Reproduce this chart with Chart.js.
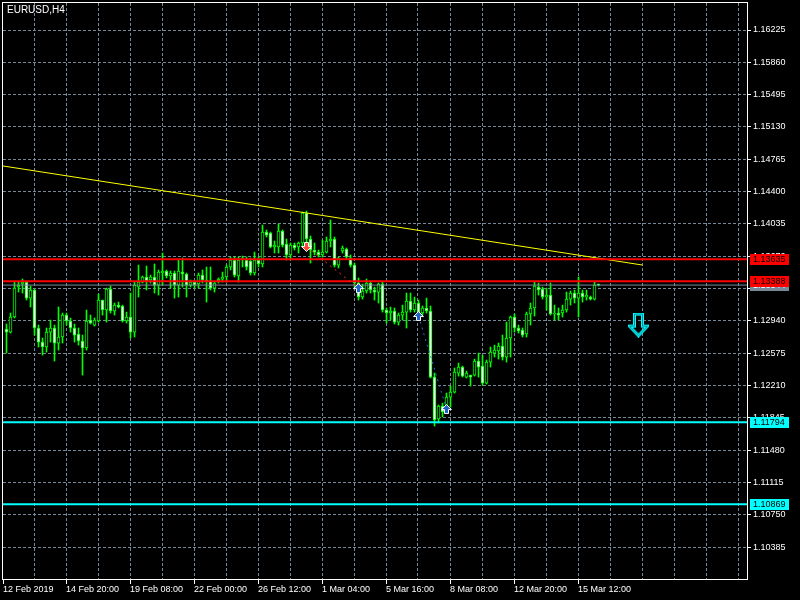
<!DOCTYPE html>
<html lang="en">
<head>
    <meta charset="UTF-8">
    <title>EURUSD,H4</title>
    <script src="https://cdn.jsdelivr.net/npm/chart.js"></script>
    <style>
        html, body { margin: 0; background: #000; }
        canvas { display: block; }
    </style>
</head>
<body>
    <canvas id="chart" width="800" height="600"></canvas>

    <script>
        // EURUSD H4 candles, bar index 0 = first visible bar (12 Feb 2019)
        const opens = [1.12847,1.12813,1.12983,1.13322,1.13356,1.13378,1.13197,1.13288,1.12859,1.12700,
            1.12644,1.12813,1.12859,1.12689,1.12757,1.13005,1.12938,1.12859,1.12791,1.12712,
            1.12633,1.12949,1.12892,1.12938,1.13175,1.13062,1.13299,1.13051,1.13118,1.13107,
            1.12938,1.12983,1.12813,1.13322,1.13378,1.13435,1.13401,1.13435,1.13344,1.13480,
            1.13503,1.13446,1.13480,1.13344,1.13491,1.13469,1.13344,1.13378,1.13356,1.13457,
            1.13401,1.13390,1.13310,1.13390,1.13412,1.13435,1.13548,1.13627,1.13446,1.13627,
            1.13627,1.13616,1.13480,1.13627,1.13582,1.13943,1.13932,1.13774,1.13774,1.13955,
            1.13808,1.13684,1.13796,1.13774,1.13819,1.14158,1.13864,1.13740,1.13717,1.13684,
            1.13717,1.13842,1.13864,1.13570,1.13729,1.13751,1.13650,1.13570,1.13367,1.13209,
            1.13277,1.13367,1.13288,1.13265,1.13356,1.13062,1.13028,1.13051,1.12926,1.13005,
            1.13039,1.13164,1.13062,1.13141,1.13028,1.13085,1.13051,1.12305,1.11831,1.11978,
            1.11921,1.12079,1.12135,1.12350,1.12418,1.12305,1.12327,1.12327,1.12486,1.12429,
            1.12237,1.12474,1.12576,1.12599,1.12655,1.12531,1.12746,1.12983,1.12859,1.12836,
            1.12791,1.13017,1.13085,1.13322,1.13299,1.13209,1.13231,1.13017,1.13028,1.13028,
            1.13062,1.13186,1.13254,1.13197,1.13254,1.13209,1.13209,1.13186,1.13344];
        const highs = [1.12904,1.13028,1.13378,1.13378,1.13412,1.13390,1.13333,1.13299,1.12892,1.12746,
            1.12859,1.12949,1.12892,1.13096,1.13028,1.13028,1.12972,1.12904,1.12859,1.12779,
            1.13062,1.13005,1.12972,1.13243,1.13175,1.13310,1.13333,1.13141,1.13152,1.13118,
            1.13039,1.13254,1.13378,1.13570,1.13446,1.13559,1.13457,1.13582,1.13514,1.13706,
            1.13514,1.13503,1.13503,1.13627,1.13650,1.13480,1.13401,1.13390,1.13480,1.13514,
            1.13548,1.13548,1.13378,1.13424,1.13491,1.13570,1.13661,1.13661,1.13661,1.13672,
            1.13661,1.13650,1.13717,1.13661,1.14022,1.13966,1.13943,1.13842,1.14034,1.13966,
            1.13864,1.13819,1.13819,1.13830,1.14169,1.14181,1.13898,1.13819,1.13740,1.13853,
            1.13887,1.14079,1.13887,1.13661,1.13785,1.13763,1.13684,1.13593,1.13424,1.13356,
            1.13412,1.13390,1.13322,1.13367,1.13378,1.13085,1.13096,1.13085,1.13028,1.13118,
            1.13254,1.13254,1.13209,1.13175,1.13107,1.13197,1.13107,1.12350,1.11989,1.12011,
            1.12124,1.12203,1.12407,1.12463,1.12429,1.12373,1.12327,1.12508,1.12576,1.12553,
            1.12497,1.12644,1.12666,1.12689,1.12779,1.12926,1.12994,1.13017,1.12892,1.12859,
            1.13039,1.13141,1.13378,1.13367,1.13322,1.13310,1.13367,1.13118,1.13085,1.13118,
            1.13265,1.13277,1.13288,1.13435,1.13288,1.13288,1.13220,1.13378,1.13356];
        const lows = [1.12576,1.12802,1.12972,1.13265,1.13254,1.13175,1.13096,1.12779,1.12644,1.12553,
            1.12587,1.12700,1.12486,1.12610,1.12689,1.12892,1.12813,1.12700,1.12666,1.12327,
            1.12610,1.12904,1.12881,1.12926,1.13005,1.12926,1.13028,1.13005,1.13085,1.12926,
            1.12915,1.12746,1.12757,1.13209,1.13367,1.13288,1.13367,1.13254,1.13231,1.13344,
            1.13424,1.13310,1.13197,1.13209,1.13322,1.13209,1.13322,1.13310,1.13310,1.13367,
            1.13152,1.13288,1.13265,1.13367,1.13378,1.13378,1.13514,1.13435,1.13378,1.13548,
            1.13514,1.13457,1.13457,1.13548,1.13548,1.13887,1.13763,1.13706,1.13706,1.13774,
            1.13627,1.13627,1.13740,1.13706,1.13774,1.13830,1.13593,1.13684,1.13661,1.13661,
            1.13706,1.13774,1.13548,1.13537,1.13706,1.13638,1.13548,1.13310,1.13175,1.13186,
            1.13254,1.13254,1.13175,1.13141,1.13039,1.12915,1.12949,1.12904,1.12892,1.12949,
            1.12859,1.13039,1.13039,1.13005,1.13005,1.13028,1.12294,1.11752,1.11786,1.11854,
            1.11899,1.11966,1.12124,1.12316,1.12305,1.12294,1.12203,1.12316,1.12305,1.12214,
            1.12226,1.12418,1.12531,1.12508,1.12497,1.12474,1.12531,1.12813,1.12802,1.12757,
            1.12757,1.12892,1.12994,1.13231,1.13186,1.13062,1.13005,1.12949,1.12949,1.12983,
            1.13039,1.13118,1.13141,1.12983,1.13152,1.13175,1.13175,1.13175,1.13333];
        const closes = [1.12813,1.12983,1.13310,1.13344,1.13378,1.13197,1.13288,1.12859,1.12700,1.12644,
            1.12813,1.12859,1.12689,1.12757,1.13005,1.12938,1.12859,1.12779,1.12712,1.12633,
            1.12938,1.12915,1.12949,1.13175,1.13062,1.13299,1.13051,1.13118,1.13096,1.12938,
            1.12983,1.12813,1.13344,1.13378,1.13435,1.13390,1.13435,1.13344,1.13491,1.13503,
            1.13446,1.13480,1.13344,1.13503,1.13469,1.13344,1.13378,1.13344,1.13457,1.13401,
            1.13390,1.13310,1.13367,1.13412,1.13435,1.13548,1.13627,1.13457,1.13627,1.13650,
            1.13548,1.13480,1.13627,1.13582,1.13943,1.13909,1.13774,1.13796,1.13955,1.13796,
            1.13684,1.13796,1.13763,1.13819,1.14158,1.13864,1.13740,1.13717,1.13684,1.13717,
            1.13842,1.13864,1.13570,1.13650,1.13763,1.13661,1.13570,1.13367,1.13209,1.13277,
            1.13367,1.13288,1.13265,1.13356,1.13062,1.13028,1.13051,1.12926,1.13005,1.13039,
            1.13164,1.13062,1.13141,1.13028,1.13085,1.13051,1.12305,1.11820,1.11978,1.11910,
            1.12079,1.12135,1.12361,1.12418,1.12316,1.12350,1.12305,1.12486,1.12418,1.12237,
            1.12474,1.12587,1.12610,1.12655,1.12531,1.12746,1.12983,1.12859,1.12825,1.12779,
            1.13017,1.13085,1.13333,1.13288,1.13209,1.13231,1.13017,1.13028,1.13005,1.13062,
            1.13186,1.13254,1.13197,1.13254,1.13209,1.13231,1.13186,1.13344,1.13344];

        // price scale ticks and time labels (bar index of each label)
        const priceTicks = [1.16225,1.15860,1.15495,1.15130,1.14765,1.14400,1.14035,1.13670,1.13305,
            1.12940,1.12575,1.12210,1.11845,1.11480,1.11115,1.10750,1.10385];
        const timeLabels = ['12 Feb 2019','14 Feb 20:00','19 Feb 08:00','22 Feb 00:00','26 Feb 12:00',
            '1 Mar 04:00','5 Mar 16:00','8 Mar 08:00','12 Mar 20:00','15 Mar 12:00'];
        const timeLabelBars = [0,15,31,47,63,79,95,111,127,143];

        // objects on the chart
        const redLevels = [1.13635, 1.13388];
        const cyanLevels = [1.11794, 1.10869];
        const trendBars = [-1, 159];
        const trendPrices = [1.14690, 1.13570];
        const sellTradeBars = [75, 88];
        const sellTradePrices = [1.13774, 1.13310];
        const buyTradeBars = [103, 110];
        const buyTradePrices = [1.12994, 1.11944];
        const signalBar = 158;
        const signalPrice = 1.12892;
        const symbolCaption = 'EURUSD,H4';

        const FONT = "'Liberation Sans', Arial, sans-serif";
        const GRID = '#778899';
        const lastBar = closes.length - 1;
        const bidPrice = closes[lastBar];

        // little arrow icons, used as point styles
        function smallArrow(up, fill) {
            const c = document.createElement('canvas');
            c.width = 11; c.height = 10;
            const g = c.getContext('2d');
            g.beginPath();
            if (up) {
                g.moveTo(5.5, 0.5); g.lineTo(10.5, 5.5); g.lineTo(7.5, 5.5); g.lineTo(7.5, 9.5);
                g.lineTo(3.5, 9.5); g.lineTo(3.5, 5.5); g.lineTo(0.5, 5.5);
            } else {
                g.moveTo(3.5, 0.5); g.lineTo(7.5, 0.5); g.lineTo(7.5, 4.5); g.lineTo(10.5, 4.5);
                g.lineTo(5.5, 9.5); g.lineTo(0.5, 4.5); g.lineTo(3.5, 4.5);
            }
            g.closePath();
            g.fillStyle = fill;
            g.fill();
            g.strokeStyle = '#ffffff';
            g.lineWidth = 1;
            g.stroke();
            return c;
        }

        function bigDownArrow() {
            const c = document.createElement('canvas');
            c.width = 21; c.height = 25;
            const g = c.getContext('2d');
            g.beginPath();
            g.moveTo(6.5, 1.5); g.lineTo(14.5, 1.5); g.lineTo(14.5, 13.5); g.lineTo(19.5, 13.5);
            g.lineTo(10.5, 23); g.lineTo(1.5, 13.5); g.lineTo(6.5, 13.5);
            g.closePath();
            g.lineJoin = 'miter';
            g.strokeStyle = '#00ffff';
            g.lineWidth = 3;
            g.stroke();
            g.strokeStyle = '#008b9b';
            g.lineWidth = 1;
            g.stroke();
            return c;
        }

        const hline = (price, color, width, order) => ({
            type: 'line',
            data: [{x: -1, y: price}, {x: 190, y: price}],
            borderColor: color,
            borderWidth: width,
            pointRadius: 0,
            order: order
        });

        const mt4Frame = {
            id: 'mt4Frame',
            beforeDraw(chart) {
                const c = chart.ctx;
                c.save();
                c.fillStyle = '#000';
                c.fillRect(0, 0, chart.width, chart.height);
                c.restore();
            },
            afterDraw(chart) {
                const c = chart.ctx, a = chart.chartArea, ys = chart.scales.y;
                c.save();
                c.strokeStyle = '#ffffff';
                c.lineWidth = 1;
                c.strokeRect(a.left - 0.5, a.top - 0.5, a.right - a.left + 1, a.bottom - a.top + 1);

                // price tags on the right scale
                c.font = '9px ' + FONT;
                c.textBaseline = 'middle';
                const tag = (price, bg, fg) => {
                    const py = Math.round(ys.getPixelForValue(price));
                    c.fillStyle = bg;
                    c.fillRect(a.right + 3, py - 5, 39, 11);
                    c.fillStyle = fg;
                    c.fillText(price.toFixed(5), a.right + 6, py + 0.5);
                };
                tag(bidPrice, GRID, '#ffffff');
                redLevels.forEach(p => tag(p, '#ff0000', '#000000'));
                cyanLevels.forEach(p => tag(p, '#00ffff', '#000000'));

                c.font = '10px ' + FONT;
                c.fillStyle = '#ffffff';
                c.fillText(symbolCaption, 7, 10);
                c.restore();
            }
        };

        const ctx = document.getElementById('chart').getContext('2d');
        new Chart(ctx, {
            type: 'bar',
            data: {
                datasets: [
                    {
                        // wicks
                        data: opens.map((o, i) => ({x: i, y: [lows[i], highs[i]]})),
                        backgroundColor: '#00ff00',
                        barThickness: 1,
                        grouped: false,
                        order: 9
                    },
                    {
                        // bodies: bull black, bear white, lime outline
                        data: opens.map((o, i) => ({x: i, y: [o, closes[i]]})),
                        backgroundColor: closes.map((c, i) => c > opens[i] ? '#000000' : '#ffffff'),
                        borderColor: '#00ff00',
                        borderWidth: 1,
                        borderSkipped: false,
                        barThickness: 3,
                        minBarLength: 1,
                        grouped: false,
                        order: 8
                    },
                    {
                        type: 'line',
                        data: trendBars.map((b, i) => ({x: b, y: trendPrices[i]})),
                        borderColor: '#ffff00',
                        borderWidth: 1,
                        pointRadius: 0,
                        order: 6
                    },
                    hline(bidPrice, GRID, 1, 5),
                    ...redLevels.map(p => hline(p, '#ff0000', 2, 4)),
                    ...cyanLevels.map(p => hline(p, '#00ffff', 2, 4)),
                    {
                        type: 'line',
                        data: sellTradeBars.map((b, i) => ({x: b, y: sellTradePrices[i]})),
                        borderColor: '#ff2a1a',
                        borderWidth: 1,
                        borderDash: [2, 4],
                        pointRadius: 0,
                        order: 3
                    },
                    {
                        type: 'line',
                        data: buyTradeBars.map((b, i) => ({x: b, y: buyTradePrices[i]})),
                        borderColor: '#2a6fd6',
                        borderWidth: 1,
                        borderDash: [2, 4],
                        pointRadius: 0,
                        order: 3
                    },
                    {
                        type: 'line',
                        showLine: false,
                        data: [{x: sellTradeBars[0], y: sellTradePrices[0]}],
                        pointStyle: smallArrow(false, '#ff4b3c'),
                        pointRadius: 5,
                        order: 1
                    },
                    {
                        type: 'line',
                        showLine: false,
                        data: [{x: sellTradeBars[1], y: sellTradePrices[1]},
                               {x: buyTradeBars[0], y: buyTradePrices[0]},
                               {x: buyTradeBars[1], y: buyTradePrices[1]}],
                        pointStyle: smallArrow(true, '#1f63c4'),
                        pointRadius: 5,
                        order: 1
                    },
                    {
                        type: 'line',
                        showLine: false,
                        data: [{x: signalBar, y: signalPrice}],
                        pointStyle: bigDownArrow(),
                        pointRadius: 8,
                        order: 0
                    }
                ]
            },
            options: {
                responsive: false,
                animation: false,
                events: [],
                layout: { autoPadding: false, padding: { left: 3, top: 3, right: 0, bottom: 0 } },
                plugins: {
                    legend: { display: false },
                    tooltip: { enabled: false }
                },
                scales: {
                    x: {
                        type: 'linear',
                        min: -0.875,
                        max: 185.125,
                        offset: false,
                        grid: {
                            offset: false,
                            color: c => c.index === 0 ? 'rgba(0,0,0,0)' : GRID,
                            tickLength: 5,
                            tickColor: c => (c.tick && c.tick.label) ? '#ffffff' : 'rgba(0,0,0,0)'
                        },
                        border: { display: false, dash: [3, 2] },
                        ticks: {
                            autoSkip: false,
                            maxRotation: 0,
                            minRotation: 0,
                            align: 'start',
                            padding: 0,
                            color: '#ffffff',
                            font: { family: FONT, size: 9 },
                            callback: function (value, index) {
                                if (index === 0) return timeLabels[0];
                                const j = timeLabelBars.findIndex(b => b > 0 && Math.abs(b - 0.125 - value) < 0.01);
                                return j > 0 ? timeLabels[j] : '';
                            }
                        },
                        afterBuildTicks: s => {
                            // MT4 grid: one line every 8 bars, first label pinned to the left edge
                            const t = [{value: s.min}];
                            for (let b = 7; b < 186; b += 8) t.push({value: b - 0.125});
                            s.ticks = t;
                        },
                        afterFit: s => { s.height = 21; s.paddingLeft = 0; s.paddingRight = 0; }
                    },
                    y: {
                        type: 'linear',
                        position: 'right',
                        min: 1.10024,
                        max: 1.16530,
                        grid: { color: GRID, tickLength: 4, tickColor: '#ffffff' },
                        border: { display: false, dash: [3, 2] },
                        ticks: {
                            autoSkip: false,
                            padding: 2,
                            color: '#ffffff',
                            font: { family: FONT, size: 9 },
                            callback: v => v.toFixed(5)
                        },
                        afterBuildTicks: s => { s.ticks = priceTicks.map(v => ({value: v})); },
                        afterFit: s => { s.width = 53; s.paddingTop = 0; s.paddingBottom = 0; }
                    }
                }
            },
            plugins: [mt4Frame]
        });
    </script>
</body>
</html>
